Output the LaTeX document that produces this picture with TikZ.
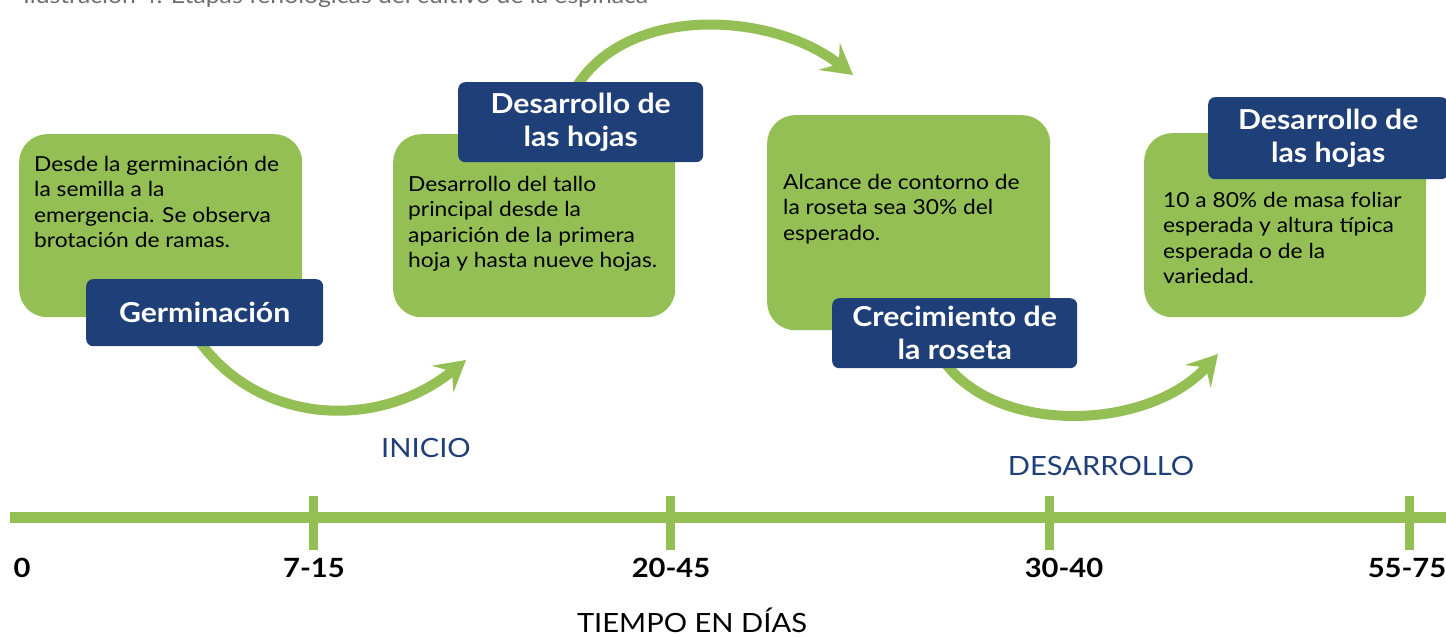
\documentclass[tikz,border=0pt]{standalone}
\usepackage{fontspec}
\setmainfont{Lato}[FakeStretch=1.1]
\usetikzlibrary{arrows.meta,backgrounds}
\definecolor{leafgreen}{RGB}{147,191,85}
\definecolor{stagenavy}{RGB}{31,63,120}
\definecolor{capgray}{RGB}{110,110,112}

\begin{document}
\begin{tikzpicture}[x=1pt, y=-1pt,
        leafbox/.style={fill=leafgreen, rounded corners=28pt, anchor=north west, inner sep=0pt},
        stagelabel/.style={fill=stagenavy, rounded corners=7pt, anchor=north west, inner sep=0pt,
            text=white, align=center, font=\bfseries\fontsize{27.5}{33}\selectfont},
        note/.style={anchor=north west, inner sep=0pt, align=left, font=\fontsize{20.7}{25.3}\selectfont},
        growarrow/.style={draw=leafgreen, line width=10pt, -{Stealth[length=30pt, width=34pt, inset=12pt]}},
        axisline/.style={draw=leafgreen, line width=11pt},
        axistick/.style={draw=leafgreen, line width=9pt},
        daylabel/.style={inner sep=0pt, font=\bfseries\fontsize{26.5}{26.5}\selectfont},
        phase/.style={inner sep=0pt, text=stagenavy, font=\fontsize{26.5}{26.5}\selectfont}]
        \useasboundingbox (0,0) rectangle (1446,637);

        % caption (cut by the page edge)
        \node[anchor=base west, inner sep=0pt, text=capgray, font=\fontsize{22.5}{22.5}\selectfont] (caption) at (23,4)
            {Ilustración 4. Etapas fenológicas del cultivo de la espinaca};

        % green boxes
        \node[leafbox, minimum width=283pt, minimum height=183pt] (box1) at (19,134) {};
        \node[leafbox, minimum width=282pt, minimum height=183pt] (box2) at (393,134) {};
        \node[leafbox, minimum width=283pt, minimum height=215pt] (box3) at (767,115) {};
        \node[leafbox, minimum width=282pt, minimum height=184pt] (box4) at (1144,133) {};

        % descriptions
        \node[note] (text1) at (34,156) {Desde la germinación de\\la semilla a la\\emergencia. Se observa\\brotación de ramas.};
        \node[note] (text2) at (408,176) {Desarrollo del tallo\\principal desde la\\aparición de la primera\\hoja y hasta nueve hojas.};
        \node[note] (text3) at (783,174) {Alcance de contorno de\\la roseta sea 30\% del\\esperado.};
        \node[note] (text4) at (1163,192) {10 a 80\% de masa foliar\\esperada y altura típica\\esperada o de la\\variedad.};

        % stage labels
        \node[stagelabel, minimum width=237pt, minimum height=67pt] (germ) at (86,279) {Germinación};
        \node[stagelabel, minimum width=245pt, minimum height=80pt] (leaves) at (458,82) {Desarrollo de\\las hojas};
        \node[stagelabel, minimum width=245pt, minimum height=70pt] (rosette) at (832,298) {Crecimiento de\\la roseta};
        \node[stagelabel, minimum width=240pt, minimum height=82pt] (leaves2) at (1208,97) {Desarrollo de\\las hojas};

        % arrows between stages
        \coordinate (tipA) at (466,360);
        \coordinate (tipB) at (853,75);
        \coordinate (tipC) at (1218,354);
        \begin{scope}[on background layer]
            \draw[growarrow] ([xshift=-6pt,yshift=6pt]germ.south) .. controls +(62,86) and +(-86,70) .. (tipA);
            \draw[growarrow] ([xshift=-5pt,yshift=-6pt]leaves.north) .. controls +(50,-83) and +(-83,-65) .. (tipB);
            \draw[growarrow] ([xshift=-10pt,yshift=6pt]rosette.south) .. controls +(55,74) and +(-68,76) .. (tipC);
        \end{scope}

        % phases
        \node[phase] (start) at (426,448) {INICIO};
        \node[phase] (growth) at (1101,466) {DESARROLLO};

        % time axis
        \coordinate (axisL) at (10,517);
        \coordinate (axisR) at (1446,517);
        \draw[axisline] (axisL) -- (axisR);
        \draw[axistick] (313,496) -- (313,550);
        \draw[axistick] (670,496) -- (670,550);
        \draw[axistick] (1049,496) -- (1049,550);
        \draw[axistick] (1409,496) -- (1409,550);

        \node[daylabel] (d0) at (22,568) {0};
        \node[daylabel] (d1) at (314,568) {7-15};
        \node[daylabel] (d2) at (671,568) {20-45};
        \node[daylabel] (d3) at (1064,568) {30-40};
        \node[daylabel] (d4) at (1407,568) {55-75};

        \node[phase, text=black] (axistitle) at (692,620) {TIEMPO EN DÍAS};
    \end{tikzpicture}
\end{document}
